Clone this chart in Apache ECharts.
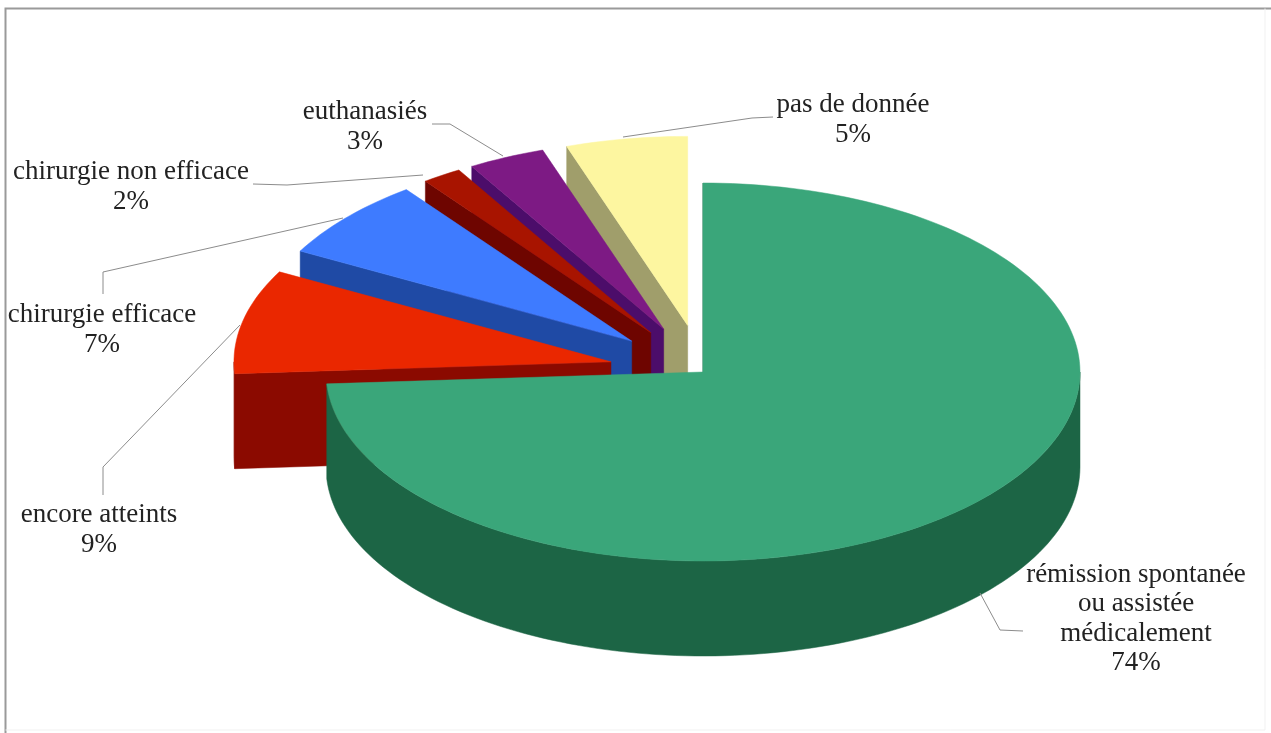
<!DOCTYPE html>
<html>
<head>
<meta charset="utf-8">
<style>html,body{margin:0;padding:0;background:#fff}#c{width:1271px;height:733px}</style>
<script src="https://cdn.jsdelivr.net/npm/echarts@6/dist/echarts.min.js"></script>
</head>
<body>
<div id="c"></div>
<script>
// DATA
const categories = ['rémission spontanée\nou assistée\nmédicalement', 'encore atteints', 'chirurgie efficace', 'chirurgie non efficace', 'euthanasiés', 'pas de donnée'];
const sliceValues = [74, 8.9, 6.9, 1.7, 3.3, 5.2];
const percentLabels = ['74%', '9%', '7%', '2%', '3%', '5%'];

// STYLE / LAYOUT
const topColors = ['#3aa67a', '#ea2700', '#3e7bff', '#a81400', '#7d1a84', '#fdf6a0'];
const wallColors = ['#1c6545', '#8b0a00', '#1f4aa5', '#6e0500', '#4c0d6a', '#a09e6b'];
const pie = { cx: 703, cy: 372, rx: 377, ry: 189, depth: 95, explode: [0, .25, .25, .25, .25, .25] };
const labelCentres = [[1136, 619], [99, 530], [102, 330], [131, 187], [365, 127], [853, 120]];
const leaders = [
  [[980, 593], [1000, 630], [1023, 631]],
  [[240, 325], [103, 467], [103, 495]],
  [[343, 218], [103, 272], [103, 294]],
  [[423, 175], [287, 185], [253, 184]],
  [[503, 156], [450, 124], [432, 124]],
  [[623, 137], [752, 118], [773, 117]]
];

const total = sliceValues.reduce((a, b) => a + b, 0);
const rad = d => d * Math.PI / 180;
let acc = 0;
const spans = sliceValues.map(v => { const s = acc; acc += v / total * 360; return [s, acc]; });

function pt(c, deg, dz) {
  return [c[0] + pie.rx * Math.sin(rad(deg)), c[1] - pie.ry * Math.cos(rad(deg)) + (dz || 0)];
}
function arc(c, a, b, dz) {
  const out = [], n = Math.max(2, Math.ceil(Math.abs(b - a) / 1.5));
  for (let i = 0; i <= n; i++) out.push(pt(c, a + (b - a) * i / n, dz));
  return out;
}
function renderSlice(params, api) {
  const i = api.value(0);
  const [a, b] = spans[i];
  const mid = rad((a + b) / 2), ex = pie.explode[i];
  const c = [pie.cx + Math.sin(mid) * ex * pie.rx, pie.cy - Math.cos(mid) * ex * pie.ry];
  const kids = [];
  const wallStyle = { fill: wallColors[i], stroke: wallColors[i], lineWidth: 0.5 };
  const c2 = [c[0], c[1] + pie.depth];
  kids.push({ type: 'polygon', shape: { points: [c, pt(c, a), pt(c, a, pie.depth), c2] }, style: wallStyle });
  const fa = Math.max(a, 90), fb = Math.min(b, 270);
  if (fb > fa) {
    kids.push({ type: 'polygon', shape: { points: arc(c, fa, fb, 0).concat(arc(c, fb, fa, pie.depth)) }, style: wallStyle });
  }
  kids.push({ type: 'polygon', shape: { points: [c].concat(arc(c, a, b, 0)) },
    style: { fill: topColors[i], stroke: topColors[i], lineWidth: 0.5 } });
  return { type: 'group', children: kids };
}
function renderLabel(params, api) {
  const i = api.value(0);
  return { type: 'group', children: [
    { type: 'polyline', shape: { points: leaders[i] }, style: { fill: null, stroke: '#8c8c8c', lineWidth: 1 } },
    { type: 'text', style: { x: labelCentres[i][0], y: labelCentres[i][1], text: categories[i] + '\n' + percentLabels[i],
      align: 'center', verticalAlign: 'middle', fill: '#222', fontFamily: 'Liberation Serif', fontSize: 27, lineHeight: 29.5 } }
  ] };
}
const drawOrder = [5, 4, 3, 2, 1, 0];
const chart = echarts.init(document.getElementById('c'), null, { renderer: 'canvas', width: 1271, height: 733 });
chart.setOption({
  animation: false,
  backgroundColor: '#fff',
  graphic: [
    { type: 'polyline', silent: true, shape: { points: [[5.5, 733], [5.5, 8.5], [1271, 8.5]] }, style: { fill: null, stroke: '#9a9a9a', lineWidth: 2 } },
    { type: 'polyline', silent: true, shape: { points: [[5.5, 730], [1265, 730], [1265, 8.5]] }, style: { fill: null, stroke: '#f1f1f1', lineWidth: 1 } }
  ],
  series: [
    { type: 'custom', coordinateSystem: 'none', renderItem: renderSlice, data: drawOrder.map(i => [i, sliceValues[i]]), z: 2 },
    { type: 'custom', coordinateSystem: 'none', renderItem: renderLabel, data: categories.map((n, i) => [i]), z: 3, silent: true }
  ]
});
</script>
</body>
</html>
